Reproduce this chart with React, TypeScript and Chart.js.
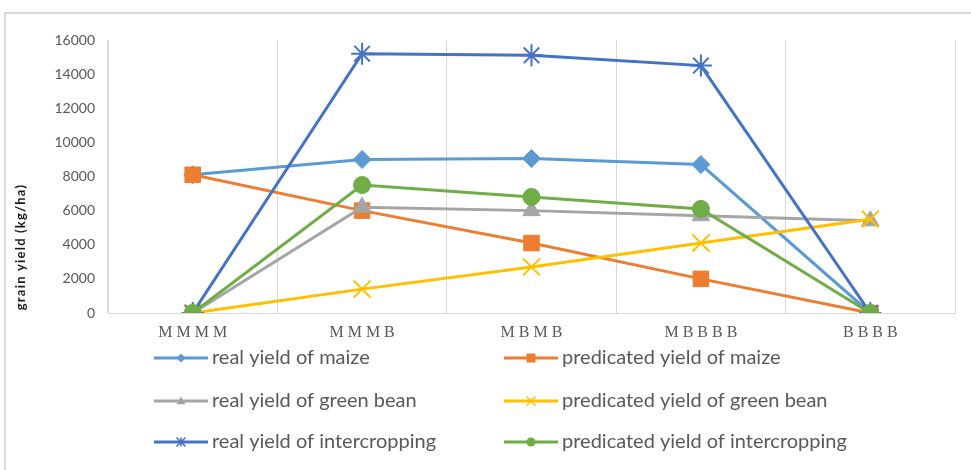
import React, { useEffect, useRef } from "react";
import { Chart, registerables } from "chart.js";

Chart.register(...registerables);

const categories = ["M M M M", "M M M B", "M B M B", "M B B B B", "B B B B"];
const realMaize = [8100, 9000, 9050, 8700, 0];
const predMaize = [8100, 6000, 4100, 2000, 0];
const realBean = [0, 6200, 6000, 5700, 5400];
const predBean = [0, 1400, 2700, 4100, 5500];
const realInter = [0, 15200, 15100, 14500, 0];
const predInter = [0, 7500, 6800, 6100, 0];
const yTicks = [0, 2000, 4000, 6000, 8000, 10000, 12000, 14000, 16000];
const yTitle = "grain yield (kg/ha)";

const seriesDefs = [
  { label: "real yield of maize", data: realMaize, color: "#5B9BD5", style: "rectRot", r: 9 },
  { label: "predicated yield of maize", data: predMaize, color: "#ED7D31", style: "rect", r: 11 },
  { label: "real yield of green bean", data: realBean, color: "#A5A5A5", style: "triangle", r: 10 },
  { label: "predicated yield of green bean", data: predBean, color: "#FFC000", style: "crossRot", r: 12 },
  { label: "real yield of intercropping", data: realInter, color: "#4472C4", style: "star", r: 11 },
  { label: "predicated yield of intercropping", data: predInter, color: "#70AD47", style: "circle", r: 8.5 },
];

const drawMarker = (ctx: CanvasRenderingContext2D, style: string, x: number, y: number, r: number, color: string) => {
  ctx.save();
  ctx.fillStyle = color;
  ctx.strokeStyle = color;
  ctx.lineWidth = 1.5;
  ctx.beginPath();
  if (style === "rectRot") {
    ctx.moveTo(x, y - r); ctx.lineTo(x + r, y); ctx.lineTo(x, y + r); ctx.lineTo(x - r, y); ctx.closePath(); ctx.fill();
  } else if (style === "rect") {
    ctx.rect(x - r, y - r, 2 * r, 2 * r); ctx.fill();
  } else if (style === "triangle") {
    ctx.moveTo(x, y - r); ctx.lineTo(x + r, y + r * 0.7); ctx.lineTo(x - r, y + r * 0.7); ctx.closePath(); ctx.fill();
  } else if (style === "crossRot") {
    ctx.moveTo(x - r, y - r); ctx.lineTo(x + r, y + r); ctx.moveTo(x + r, y - r); ctx.lineTo(x - r, y + r); ctx.stroke();
  } else if (style === "star") {
    ctx.moveTo(x - r, y - r); ctx.lineTo(x + r, y + r); ctx.moveTo(x + r, y - r); ctx.lineTo(x - r, y + r);
    ctx.moveTo(x, y - r); ctx.lineTo(x, y + r); ctx.stroke();
  } else {
    ctx.arc(x, y, r, 0, Math.PI * 2); ctx.fill();
  }
  ctx.restore();
};

const customPlugin = {
  id: "customDecor",
  beforeDraw(chart: any) {
    const ctx = chart.ctx as CanvasRenderingContext2D;
    ctx.save();
    ctx.fillStyle = "#ffffff";
    ctx.fillRect(0, 0, chart.width, chart.height);
    ctx.strokeStyle = "#d9d9d9";
    ctx.lineWidth = 2;
    ctx.beginPath();
    ctx.moveTo(5, chart.height);
    ctx.lineTo(5, 13);
    ctx.lineTo(chart.width, 13);
    ctx.stroke();
    ctx.restore();
  },
  afterDraw(chart: any) {
    const ctx = chart.ctx as CanvasRenderingContext2D;
    ctx.save();
    ctx.translate(21, 247);
    ctx.rotate(-Math.PI / 2);
    ctx.font = "bold 13px Lato";
    (ctx as any).letterSpacing = "1.2px";
    ctx.fillStyle = "#1a1a1a";
    ctx.textAlign = "center";
    ctx.textBaseline = "middle";
    ctx.fillText(yTitle, 0, 0);
    ctx.restore();
    const colX = [154, 504];
    const rowY = [358, 401, 442];
    ctx.save();
    ctx.font = "20px Lato";
    ctx.textBaseline = "middle";
    seriesDefs.forEach((s, i) => {
      const col = i % 2;
      const row = Math.floor(i / 2);
      const x0 = colX[col];
      const y = rowY[row];
      ctx.strokeStyle = s.color;
      ctx.lineWidth = 3;
      ctx.beginPath();
      ctx.moveTo(x0, y);
      ctx.lineTo(x0 + 54, y);
      ctx.stroke();
      drawMarker(ctx, s.style, x0 + 27, y, 4.5, s.color);
      ctx.fillStyle = "#595959";
      ctx.fillText(s.label, x0 + 58, y);
    });
    ctx.restore();
  },
};

export default function App() {
  const ref = useRef<HTMLCanvasElement | null>(null);
  useEffect(() => {
    document.body.style.margin = "0";
    if (!ref.current) return;
    const chart = new Chart(ref.current, {
      type: "line",
      data: {
        labels: categories,
        datasets: seriesDefs.map((s, i) => ({
          label: s.label,
          data: s.data,
          order: seriesDefs.length - i,
          borderColor: s.color,
          backgroundColor: s.color,
          borderWidth: 3,
          pointStyle: s.style as any,
          pointRadius: s.r,
          pointBorderWidth: s.style === "crossRot" || s.style === "star" ? 2 : 1,
          pointBorderColor: s.color,
          pointBackgroundColor: s.color,
          tension: 0,
        })),
      },
      options: {
        animation: false,
        responsive: false,
        maintainAspectRatio: false,
        layout: { padding: { top: 40, right: 16, bottom: 127, left: 0 } },
        plugins: { legend: { display: false }, tooltip: { enabled: false } },
        scales: {
          x: {
            offset: true,
            grid: { display: true, offset: true, color: "#d9d9d9", lineWidth: 1, drawTicks: false },
            border: { display: true, color: "#d9d9d9" },
            ticks: {
              color: "#595959",
              font: { family: "Liberation Serif", size: 16 },
              padding: 10,
              maxRotation: 0,
              autoSkip: false,
            },
            afterFit: (scale: any) => { scale.height = 30; },
          },
          y: {
            min: 0,
            max: 16000,
            afterBuildTicks: (scale: any) => { scale.ticks = yTicks.map((v) => ({ value: v })); },
            grid: { display: false, drawTicks: false },
            border: { display: true, color: "#d9d9d9" },
            ticks: {
              color: "#595959",
              font: { family: "Lato", size: 14 },
              padding: 13,
              callback: (v: any) => String(v),
            },
            afterFit: (scale: any) => { scale.width = 108; },
          },
        },
      },
      plugins: [customPlugin],
    });
    return () => chart.destroy();
  }, []);
  return <canvas ref={ref} width={971} height={470} style={{ display: "block" }} />;
}
